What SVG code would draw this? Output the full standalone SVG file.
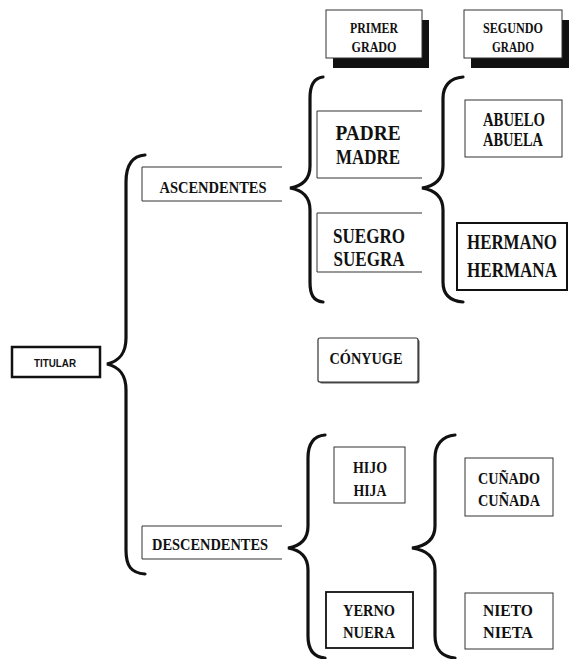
<svg xmlns="http://www.w3.org/2000/svg" width="573" height="659" viewBox="0 0 573 659">
<style>
.t{font-family:"Liberation Serif","Times New Roman",serif;font-weight:bold;text-anchor:middle;fill:#111}
.s{font-family:"Liberation Sans",Arial,sans-serif;font-weight:bold;text-anchor:middle;fill:#111}
.box{fill:#fff;stroke:#333;stroke-width:1}
.open{fill:none;stroke:#333;stroke-width:1}
.thick{fill:#fff;stroke:#111;stroke-width:2}
.brace{fill:none;stroke:#111;stroke-width:3.2;stroke-linecap:round;stroke-linejoin:miter}
</style>
<rect width="573" height="659" fill="#fff"/>
<g id="connectors">
<path class="brace" d="M145,155 C131,156 126,166 126,182 L126,338 C126,354 119,361 107,364 C119,367 126,374 126,390 L126,550 C126,566 131,573 145,574"/>
<path class="brace" d="M323,77 C313,78 310,86 310,98 L310,166 C310,180 302,186 290,188 C302,190 310,196 310,210 L310,282 C310,294 313,301 323,302"/>
<path class="brace" d="M463,77 C450,78 443,86 443,98 L443,166 C443,180 434,186 422,188 C434,190 443,196 443,210 L443,282 C443,294 450,301 463,302"/>
<path class="brace" d="M325,435 C313,436 308,445 308,458 L308,526 C308,540 300,546 288,548 C300,550 308,556 308,570 L308,636 C308,649 313,657 325,658"/>
<path class="brace" d="M455,435 C442,436 435,445 435,458 L435,526 C435,540 426,546 412,548 C426,550 435,556 435,570 L435,636 C435,649 442,657 455,658"/>
</g>
<g id="primer-grado">
<rect x="333" y="20" width="96" height="48" fill="#111"/>
<rect class="box" x="326" y="10" width="96" height="48"/>
<text class="t" x="374" y="32.5" font-size="14" textLength="48" lengthAdjust="spacingAndGlyphs">PRIMER</text>
<text class="t" x="374" y="51.5" font-size="14" textLength="45" lengthAdjust="spacingAndGlyphs">GRADO</text>
</g>
<g id="segundo-grado">
<rect x="471" y="20" width="98" height="48" fill="#111"/>
<rect class="box" x="464" y="10" width="98" height="48"/>
<text class="t" x="513" y="32.5" font-size="14" textLength="60" lengthAdjust="spacingAndGlyphs">SEGUNDO</text>
<text class="t" x="513" y="51.5" font-size="14" textLength="42" lengthAdjust="spacingAndGlyphs">GRADO</text>
</g>
<g id="titular">
<rect x="12" y="347" width="88" height="30" fill="#fff" stroke="#111" stroke-width="2.5"/>
<text class="s" x="55" y="367" font-size="11" textLength="42" lengthAdjust="spacingAndGlyphs">TITULAR</text>
</g>
<g id="ascendentes">
<path class="open" d="M282,167 H142 V201 H282"/>
<text class="t" x="213" y="192.5" font-size="17" textLength="107" lengthAdjust="spacingAndGlyphs">ASCENDENTES</text>
</g>
<g id="descendentes">
<path class="open" d="M282,526 H142 V559 H282"/>
<text class="t" x="210" y="549.5" font-size="17" textLength="116" lengthAdjust="spacingAndGlyphs">DESCENDENTES</text>
</g>
<g id="padre-madre">
<path class="open" d="M422,111 H317 V178 H422"/>
<text class="t" x="368" y="139.5" font-size="22" textLength="65" lengthAdjust="spacingAndGlyphs">PADRE</text>
<text class="t" x="368" y="163.5" font-size="22" textLength="64" lengthAdjust="spacingAndGlyphs">MADRE</text>
</g>
<g id="suegro-suegra">
<path class="open" d="M422,213 H317 V272 H422"/>
<text class="t" x="369" y="242.5" font-size="22" textLength="72" lengthAdjust="spacingAndGlyphs">SUEGRO</text>
<text class="t" x="369" y="265.5" font-size="22" textLength="71" lengthAdjust="spacingAndGlyphs">SUEGRA</text>
</g>
<g id="abuelo-abuela">
<rect class="box" x="465" y="100" width="97" height="57"/>
<text class="t" x="514" y="126" font-size="18" textLength="62" lengthAdjust="spacingAndGlyphs">ABUELO</text>
<text class="t" x="513" y="146" font-size="18" textLength="60" lengthAdjust="spacingAndGlyphs">ABUELA</text>
</g>
<g id="hermano-hermana">
<rect class="thick" x="457" y="223" width="110" height="67"/>
<text class="t" x="512" y="249" font-size="20" textLength="90" lengthAdjust="spacingAndGlyphs">HERMANO</text>
<text class="t" x="512" y="277" font-size="20" textLength="90" lengthAdjust="spacingAndGlyphs">HERMANA</text>
</g>
<g id="conyuge">
<rect x="319.5" y="339.5" width="100" height="44" rx="2" fill="#555"/>
<rect x="318" y="338" width="100" height="44" rx="2" fill="#fff" stroke="#333" stroke-width="1.2"/>
<text class="t" x="366" y="364" font-size="17" textLength="73" lengthAdjust="spacingAndGlyphs">CÓNYUGE</text>
</g>
<g id="hijo-hija">
<rect class="box" x="334" y="447" width="71" height="56"/>
<text class="t" x="370" y="472.5" font-size="17" textLength="34" lengthAdjust="spacingAndGlyphs">HIJO</text>
<text class="t" x="370" y="495.5" font-size="17" textLength="33" lengthAdjust="spacingAndGlyphs">HIJA</text>
</g>
<g id="cunado-cunada">
<rect class="box" x="465" y="458" width="88" height="58"/>
<text class="t" x="509" y="483.5" font-size="17" textLength="62" lengthAdjust="spacingAndGlyphs">CUÑADO</text>
<text class="t" x="509" y="505.5" font-size="17" textLength="62" lengthAdjust="spacingAndGlyphs">CUÑADA</text>
</g>
<g id="yerno-nuera">
<rect x="326" y="592" width="87" height="56" fill="#fff" stroke="#111" stroke-width="1.8"/>
<text class="t" x="369" y="615.5" font-size="17" textLength="52" lengthAdjust="spacingAndGlyphs">YERNO</text>
<text class="t" x="369" y="637.5" font-size="17" textLength="52" lengthAdjust="spacingAndGlyphs">NUERA</text>
</g>
<g id="nieto-nieta">
<rect class="box" x="465" y="593" width="88" height="56"/>
<text class="t" x="508" y="615.5" font-size="17" textLength="50" lengthAdjust="spacingAndGlyphs">NIETO</text>
<text class="t" x="508" y="637.5" font-size="17" textLength="50" lengthAdjust="spacingAndGlyphs">NIETA</text>
</g>
</svg>
